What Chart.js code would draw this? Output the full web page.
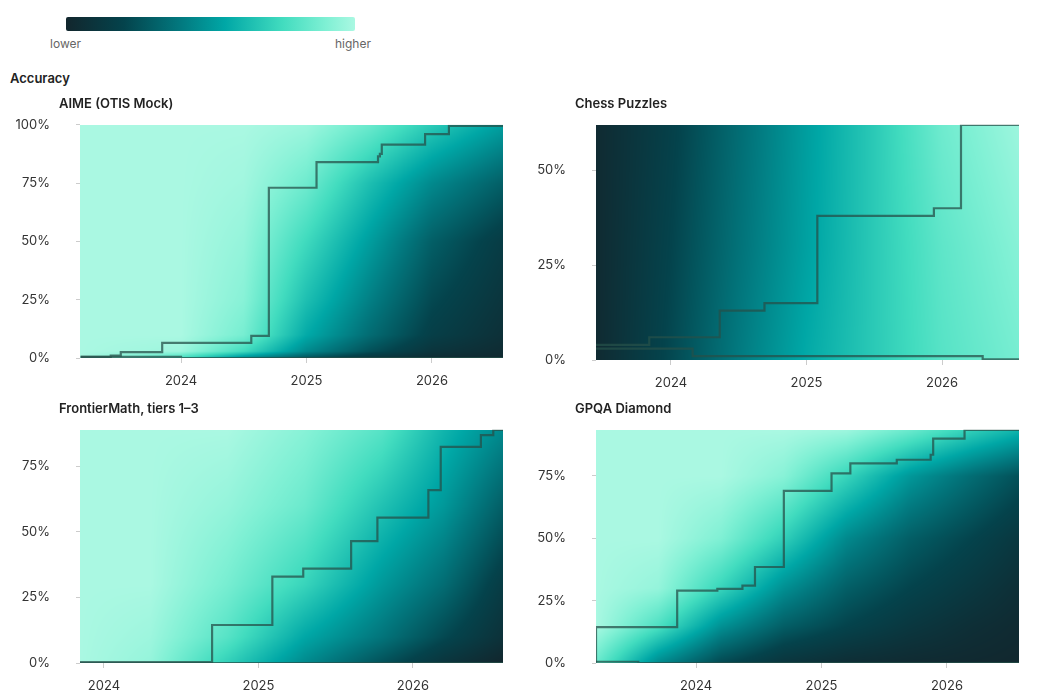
<!DOCTYPE html>
<html>
<head>
<meta charset="utf-8">
<script src="https://cdn.jsdelivr.net/npm/chart.js@4"></script>
<style>
  body { margin: 0; width: 1050px; height: 700px; background: #fff; font-family: Inter, sans-serif; position: relative; overflow: hidden; }
  .abs { position: absolute; }
  .ptitle { font-size: 13px; font-weight: 600; color: #222; }
  .legend-lbl { font-size: 12px; color: #666; }
</style>
</head>
<body>
<div class="abs" style="left:66px;top:17px;width:289px;height:14px;border-radius:2px;background:linear-gradient(to right,#12262d,#04434c 20%,#027a80 40%,#00a7a6 55%,#42dcbf 75%,#7ff0d4 90%,#aaf8e2)"></div>
<div class="abs legend-lbl" style="left:50px;top:36px">lower</div>
<div class="abs legend-lbl" style="left:335px;top:36px">higher</div>
<div class="abs ptitle" style="left:10px;top:70px">Accuracy</div>
<canvas id="aime" class="abs"></canvas>
<canvas id="chess" class="abs"></canvas>
<canvas id="fm" class="abs"></canvas>
<canvas id="gpqa" class="abs"></canvas>
<div class="abs ptitle" style="left:59px;top:95px">AIME (OTIS Mock)</div>
<div class="abs ptitle" style="left:575px;top:95px">Chess Puzzles</div>
<div class="abs ptitle" style="left:59px;top:400px">FrontierMath, tiers 1–3</div>
<div class="abs ptitle" style="left:575px;top:400px">GPQA Diamond</div>
<script>
// Step frontiers: [year, accuracy %]
const aimeUpper = [[2023.2,0.5],[2023.44,1],[2023.52,2.5],[2023.85,6.5],[2024.56,9.5],[2024.70,73],[2025.08,84],[2025.57,86.5],[2025.585,87.5],[2025.60,91.5],[2025.945,96],[2026.135,99.5],[2026.566,99.5]];
const aimeLower = [[2023.2,0.5],[2024.0,0],[2026.566,0]];
const chessUpper = [[2023.447,4],[2023.84,6],[2024.36,13],[2024.69,15],[2025.08,38],[2025.94,40],[2026.14,62],[2026.568,62]];
const chessLower = [[2023.447,3],[2024.16,1],[2026.30,0.2],[2026.568,0.2]];
const fmUpper = [[2023.845,0.3],[2024.70,14.5],[2025.09,33],[2025.29,36],[2025.60,46.5],[2025.77,55.5],[2026.10,66],[2026.18,82.5],[2026.44,87],[2026.52,89],[2026.583,89]];
const fmLower = [[2023.845,0],[2026.583,0]];
const gpqaUpper = [[2023.203,0.5],[2023.2031,14.4],[2023.85,29],[2024.17,29.7],[2024.37,31],[2024.47,38.5],[2024.70,69],[2025.08,76],[2025.23,80],[2025.60,81.5],[2025.87,83.5],[2025.89,90],[2026.14,93.5],[2026.574,93.5]];
const gpqaLower = [[2023.203,0.5],[2023.54,0],[2026.574,0]];

// Background intensity samples (0 = lower, 1 = higher)
const aimeCols = [2023.2,2024,2024.5,2025,2025.5,2026,2026.57];
const aimeRows = [0,3,10,25,50,75,100];
const aimeLevels = [
  [1,0.75,0.45,0.25,0.1,0.04,0.02],
  [1,0.97,0.75,0.45,0.25,0.1,0.04],
  [1,1,0.88,0.56,0.35,0.17,0.07],
  [1,1,0.92,0.64,0.42,0.22,0.1],
  [1,1,0.95,0.74,0.52,0.3,0.15],
  [1,1,0.98,0.86,0.64,0.45,0.3],
  [1,1,1,0.97,0.85,0.68,0.52]
];
const chessCols = [2023.45,2024,2024.5,2025,2025.5,2026,2026.57];
const chessRows = [0,30,62];
const chessLevels = [
  [0.03,0.22,0.4,0.56,0.68,0.8,0.88],
  [0.03,0.2,0.37,0.53,0.68,0.82,0.92],
  [0.03,0.18,0.35,0.52,0.68,0.86,0.97]
];
const fmCols = [2023.85,2024.3,2024.8,2025.3,2025.8,2026.2,2026.58];
const fmRows = [0,10,30,60,89];
const fmLevels = [
  [1,0.95,0.7,0.45,0.25,0.1,0],
  [1,0.97,0.8,0.55,0.38,0.22,0.08],
  [1,1,0.88,0.72,0.5,0.35,0.15],
  [1,1,0.95,0.85,0.65,0.5,0.3],
  [1,1,1,0.92,0.8,0.6,0.45]
];
const gpqaCols = [2023.2,2023.7,2024.2,2024.7,2025.2,2025.7,2026.2,2026.57];
const gpqaRows = [0,15,30,50,75,93.5];
const gpqaLevels = [
  [0.85,0.45,0.22,0.1,0.05,0.03,0.02,0.01],
  [1,0.78,0.48,0.3,0.2,0.12,0.06,0.03],
  [1,0.95,0.72,0.47,0.3,0.2,0.12,0.06],
  [1,1,0.9,0.7,0.45,0.3,0.2,0.12],
  [1,1,1,0.92,0.72,0.5,0.35,0.25],
  [1,1,1,1,0.97,0.85,0.7,0.6]
];
const yTicks = [0,25,50,75,100];
const xTicks = [2024,2025,2026];

const ramp = [[0,[18,38,45]],[0.2,[4,67,76]],[0.4,[2,122,128]],[0.55,[0,167,166]],[0.75,[66,220,191]],[0.9,[127,240,212]],[1,[170,248,226]]];
function rampColor(t) {
  t = Math.max(0, Math.min(1, t));
  for (let i = 1; i < ramp.length; i++) {
    if (t <= ramp[i][0]) {
      const a = ramp[i-1], b = ramp[i], f = (t - a[0]) / (b[0] - a[0]);
      return a[1].map((v, k) => v + (b[1][k] - v) * f);
    }
  }
  return ramp[ramp.length-1][1];
}
function locate(arr, v) {
  let i = 0;
  while (i < arr.length - 2 && v > arr[i+1]) i++;
  const f = Math.max(0, Math.min(1, (v - arr[i]) / (arr[i+1] - arr[i])));
  return [i, f];
}

const fieldPlugin = {
  id: 'field',
  beforeDatasetsDraw(chart) {
    const f = chart.options.plugins.field;
    const a = chart.chartArea, xs = chart.scales.x, ys = chart.scales.y;
    const w = Math.round(a.right - a.left), h = Math.round(a.bottom - a.top);
    const img = chart.ctx.createImageData(w, h);
    for (let py = 0; py < h; py++) {
      const [ri, rf] = locate(f.rows, ys.getValueForPixel(a.top + py + 0.5));
      for (let px = 0; px < w; px++) {
        const [ci, cf] = locate(f.cols, xs.getValueForPixel(a.left + px + 0.5));
        const L = f.levels;
        const lo = L[ri][ci] * (1 - cf) + L[ri][ci+1] * cf;
        const hi = L[ri+1][ci] * (1 - cf) + L[ri+1][ci+1] * cf;
        const c = rampColor(lo * (1 - rf) + hi * rf);
        const o = (py * w + px) * 4;
        img.data[o] = c[0]; img.data[o+1] = c[1]; img.data[o+2] = c[2]; img.data[o+3] = 255;
      }
    }
    chart.ctx.putImageData(img, Math.round(a.left), Math.round(a.top));
  }
};

function makePanel(id, box, area, xr, ymax, upper, lower, cols, rows, levels) {
  const cv = document.getElementById(id);
  cv.width = box.w; cv.height = box.h;
  cv.style.left = box.l + 'px'; cv.style.top = box.t + 'px';
  const line = (pts) => ({
    data: pts.map(p => ({ x: p[0], y: p[1] })),
    stepped: 'before', borderColor: 'rgba(38,80,74,0.75)', borderWidth: 2.2,
    pointRadius: 0, fill: false
  });
  new Chart(cv, {
    type: 'line',
    data: { datasets: [line(lower), line(upper)] },
    options: {
      responsive: false, animation: false, events: [],
      layout: { padding: { top: 0, right: box.l + box.w - area.r, left: 0, bottom: 0 } },
      plugins: { legend: { display: false }, tooltip: { enabled: false },
        field: { cols: cols, rows: rows, levels: levels } },
      scales: {
        x: {
          type: 'linear', min: xr[0], max: xr[1],
          afterBuildTicks: s => { s.ticks = xTicks.map(v => ({ value: v })); },
          afterFit: s => { s.height = box.t + box.h - area.b; },
          ticks: { color: '#333', font: { family: 'Inter', size: 13 }, padding: 10, callback: v => String(v) },
          grid: { drawOnChartArea: false, tickLength: 5, color: '#ccc' },
          border: { display: false }
        },
        y: {
          min: 0, max: ymax,
          afterBuildTicks: s => { s.ticks = yTicks.filter(v => v <= ymax).map(v => ({ value: v })); },
          afterFit: s => { s.width = area.l - box.l; },
          ticks: { color: '#333', font: { family: 'Inter', size: 13 }, padding: 26, callback: v => v + '%' },
          grid: { drawOnChartArea: false, tickLength: 4, color: '#ccc' },
          border: { display: false }
        }
      }
    },
    plugins: [fieldPlugin]
  });
}

makePanel('aime', {l:0,t:91,w:515,h:309}, {l:80,t:125,r:503,b:358}, [2023.195,2026.566], 100, aimeUpper, aimeLower, aimeCols, aimeRows, aimeLevels);
makePanel('chess', {l:520,t:91,w:530,h:309}, {l:596,t:125,r:1019,b:360}, [2023.447,2026.568], 62, chessUpper, chessLower, chessCols, chessRows, chessLevels);
makePanel('fm', {l:0,t:396,w:515,h:304}, {l:80,t:430,r:503,b:663}, [2023.845,2026.583], 89, fmUpper, fmLower, fmCols, fmRows, fmLevels);
makePanel('gpqa', {l:520,t:396,w:530,h:304}, {l:596,t:430,r:1019,b:663}, [2023.203,2026.574], 93.5, gpqaUpper, gpqaLower, gpqaCols, gpqaRows, gpqaLevels);
</script>
</body>
</html>
